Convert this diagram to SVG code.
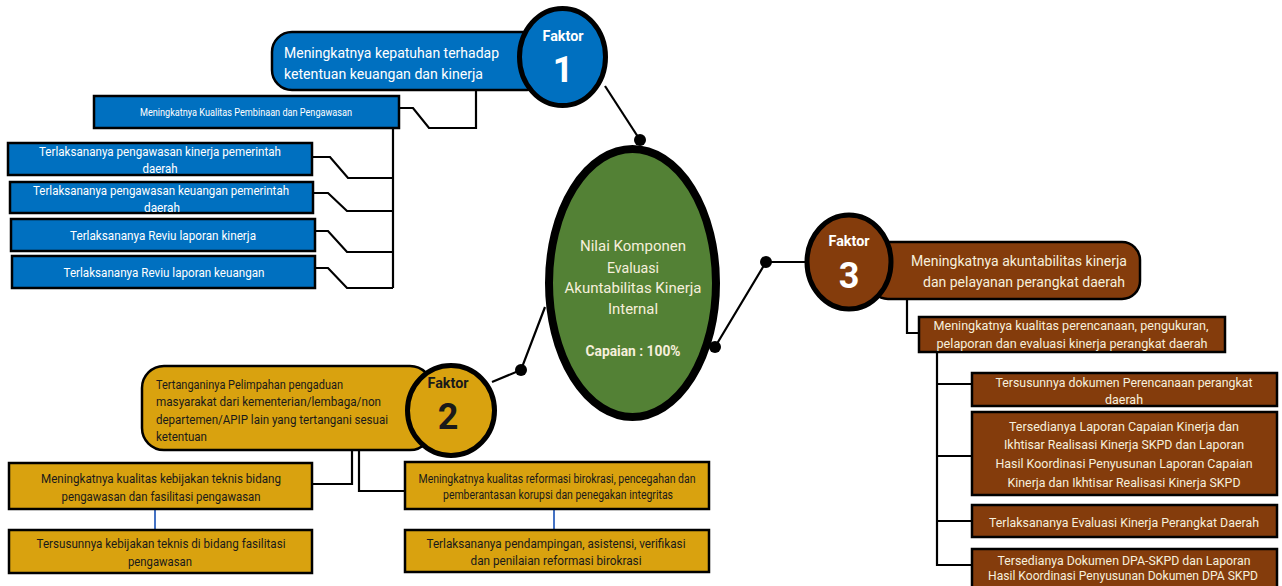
<svg xmlns="http://www.w3.org/2000/svg" width="1282" height="586" viewBox="0 0 1282 586">
<style>
text{font-family:Roboto,"Liberation Sans",sans-serif}
.blue{fill:#0070c0;stroke:#000;stroke-width:2.5}
.brown{fill:#843c0c;stroke:#000;stroke-width:2.5}
.gold{fill:#d9a20f;stroke:#000;stroke-width:2.5}
.wt{fill:#ffffff}
.ct{fill:#f6efdc}
.dk{fill:#1a1a1a}
.mid{text-anchor:middle}
.f15{font-size:15.5px}
.f13{font-size:13.5px}
.f12{font-size:12px}
.f10{font-size:10.5px}
.fk{font-size:15.5px;font-weight:bold;text-anchor:middle}
.num{font-size:36px;font-weight:bold;text-anchor:middle}
.ln{fill:none;stroke:#000;stroke-width:2.2}
.bl{fill:none;stroke:#4472c4;stroke-width:2}
.dot{fill:#000}
</style>
<rect width="1282" height="586" fill="#fff"/>
<g id="connectors">
  <polyline class="ln" points="476,90 476,128 429,128 413,108 398,108"/>
  <polyline class="ln" points="393,128 393,288"/>
  <polyline class="ln" points="393,178 348,178 330,157 313,157"/>
  <polyline class="ln" points="393,211 347,211 328,193 313,193"/>
  <polyline class="ln" points="393,252 347,252 328,231 315,231"/>
  <polyline class="ln" points="393,288 347,288 328,268 315,268"/>
  <line class="ln" x1="605" y1="86" x2="640" y2="140"/>
  <circle class="dot" cx="640" cy="140" r="6"/>
  <polyline class="ln" points="545,307 521,370 492,382"/>
  <circle class="dot" cx="521" cy="370" r="6"/>
  <polyline class="ln" points="715,347 766,262 808,262"/>
  <circle class="dot" cx="715" cy="347" r="6"/>
  <circle class="dot" cx="766" cy="262" r="6"/>
  <polyline class="ln" points="907,298 907,333 920,333"/>
  <polyline class="ln" points="937,352 937,565 972,565"/>
  <line class="ln" x1="937" y1="384" x2="972" y2="384"/>
  <line class="ln" x1="937" y1="456" x2="972" y2="456"/>
  <line class="ln" x1="937" y1="521" x2="972" y2="521"/>
  <polyline class="ln" points="352,447 352,484 312,484"/>
  <polyline class="ln" points="359,450 359,491 405,491"/>
  <line class="bl" x1="155" y1="509" x2="155" y2="530"/>
  <line class="bl" x1="554" y1="509" x2="554" y2="530"/>
</g>
<g id="center">
  <ellipse cx="632.5" cy="283" rx="83.5" ry="134" fill="#538135" stroke="#000" stroke-width="8"/>
  <text class="ct mid f15" x="633" y="250.5" textLength="106" lengthAdjust="spacingAndGlyphs">Nilai Komponen</text>
  <text class="ct mid f15" x="633" y="272.5" textLength="52" lengthAdjust="spacingAndGlyphs">Evaluasi</text>
  <text class="ct mid f15" x="633" y="292.5" textLength="137" lengthAdjust="spacingAndGlyphs">Akuntabilitas Kinerja</text>
  <text class="ct mid f15" x="633" y="313.5" textLength="50" lengthAdjust="spacingAndGlyphs">Internal</text>
  <text class="ct mid f15" x="633" y="355.5" font-weight="bold" textLength="95" lengthAdjust="spacingAndGlyphs">Capaian : 100%</text>
</g>
<g id="faktor1-tujuan">
  <rect class="blue" x="272" y="32" width="275" height="58" rx="20"/>
  <text class="wt f15" x="284" y="57.5" textLength="215" lengthAdjust="spacingAndGlyphs">Meningkatnya kepatuhan terhadap</text>
  <text class="wt f15" x="284" y="78.5" textLength="199" lengthAdjust="spacingAndGlyphs">ketentuan keuangan dan kinerja</text>
</g>
<g id="faktor1">
  <ellipse cx="562.5" cy="57" rx="43" ry="48.5" fill="#0070c0" stroke="#000" stroke-width="5"/>
  <text class="wt fk" x="563" y="40.5" textLength="41" lengthAdjust="spacingAndGlyphs">Faktor</text>
  <text class="wt num" x="563" y="82">1</text>
</g>
<g id="f1-pembinaan">
  <rect class="blue" x="94" y="96" width="305" height="32"/>
  <text class="wt mid f10" x="246" y="115.5" textLength="212" lengthAdjust="spacingAndGlyphs">Meningkatnya Kualitas Pembinaan dan Pengawasan</text>
</g>
<g id="f1-kinerja">
  <rect class="blue" x="8" y="143" width="304" height="32"/>
  <text class="wt mid f13" x="160" y="155.5" textLength="242" lengthAdjust="spacingAndGlyphs">Terlaksananya pengawasan kinerja pemerintah</text>
  <text class="wt mid f13" x="160" y="173" textLength="35" lengthAdjust="spacingAndGlyphs">daerah</text>
</g>
<g id="f1-keuangan">
  <rect class="blue" x="10" y="182" width="303" height="31"/>
  <text class="wt mid f13" x="161" y="194.5" textLength="256" lengthAdjust="spacingAndGlyphs">Terlaksananya pengawasan keuangan pemerintah</text>
  <text class="wt mid f13" x="162" y="211.5" textLength="36" lengthAdjust="spacingAndGlyphs">daerah</text>
</g>
<g id="f1-reviu-kinerja">
  <rect class="blue" x="11" y="219" width="304" height="32"/>
  <text class="wt mid f13" x="163" y="240" textLength="186" lengthAdjust="spacingAndGlyphs">Terlaksananya Reviu laporan kinerja</text>
</g>
<g id="f1-reviu-keuangan">
  <rect class="blue" x="12" y="256" width="303" height="32"/>
  <text class="wt mid f13" x="164" y="277" textLength="201" lengthAdjust="spacingAndGlyphs">Terlaksananya Reviu laporan keuangan</text>
</g>
<g id="faktor2-tujuan">
  <rect class="gold" x="142" y="366" width="290" height="84" rx="22"/>
  <text class="dk f13" x="156" y="388.5" textLength="187" lengthAdjust="spacingAndGlyphs">Tertanganinya Pelimpahan pengaduan</text>
  <text class="dk f13" x="156" y="406" textLength="225" lengthAdjust="spacingAndGlyphs">masyarakat dari kementerian/lembaga/non</text>
  <text class="dk f13" x="156" y="424" textLength="232" lengthAdjust="spacingAndGlyphs">departemen/APIP lain yang tertangani sesuai</text>
  <text class="dk f13" x="156" y="441" textLength="51" lengthAdjust="spacingAndGlyphs">ketentuan</text>
</g>
<g id="faktor2">
  <ellipse cx="451" cy="410.5" rx="43.5" ry="45" fill="#d9a20f" stroke="#000" stroke-width="5"/>
  <text class="dk fk" x="448" y="388" textLength="41" lengthAdjust="spacingAndGlyphs">Faktor</text>
  <text class="dk num" x="448" y="429">2</text>
</g>
<g id="f2-kebijakan">
  <rect class="gold" x="9" y="463" width="303" height="46"/>
  <text class="dk mid f13" x="161" y="483" textLength="240" lengthAdjust="spacingAndGlyphs">Meningkatnya kualitas kebijakan teknis bidang</text>
  <text class="dk mid f13" x="161" y="501" textLength="199" lengthAdjust="spacingAndGlyphs">pengawasan dan fasilitasi pengawasan</text>
</g>
<g id="f2-tersusunnya">
  <rect class="gold" x="9" y="530" width="303" height="43"/>
  <text class="dk mid f13" x="161" y="548" textLength="249" lengthAdjust="spacingAndGlyphs">Tersusunnya kebijakan teknis di bidang fasilitasi</text>
  <text class="dk mid f13" x="160" y="566" textLength="64" lengthAdjust="spacingAndGlyphs">pengawasan</text>
</g>
<g id="f2-reformasi">
  <rect class="gold" x="405" y="462" width="304" height="47"/>
  <text class="dk mid f12" x="557" y="482.5" textLength="277" lengthAdjust="spacingAndGlyphs">Meningkatnya kualitas reformasi birokrasi, pencegahan dan</text>
  <text class="dk mid f12" x="558" y="498.5" textLength="230" lengthAdjust="spacingAndGlyphs">pemberantasan korupsi dan penegakan integritas</text>
</g>
<g id="f2-pendampingan">
  <rect class="gold" x="405" y="530" width="304" height="42"/>
  <text class="dk mid f13" x="556" y="548" textLength="259" lengthAdjust="spacingAndGlyphs">Terlaksananya pendampingan, asistensi, verifikasi</text>
  <text class="dk mid f13" x="556" y="565" textLength="171" lengthAdjust="spacingAndGlyphs">dan penilaian reformasi birokrasi</text>
</g>
<g id="faktor3-tujuan">
  <rect class="brown" x="870" y="242" width="270" height="57" rx="18"/>
  <text class="ct f15" x="911" y="265.5" textLength="216" lengthAdjust="spacingAndGlyphs">Meningkatnya akuntabilitas kinerja</text>
  <text class="ct f15" x="923" y="286.5" textLength="202" lengthAdjust="spacingAndGlyphs">dan pelayanan perangkat daerah</text>
</g>
<g id="faktor3">
  <ellipse cx="849" cy="262" rx="42" ry="47" fill="#843c0c" stroke="#000" stroke-width="5"/>
  <text class="wt fk" x="849" y="246" textLength="41" lengthAdjust="spacingAndGlyphs">Faktor</text>
  <text class="wt num" x="849" y="288" font-size="33">3</text>
</g>
<g id="f3-kualitas">
  <rect class="brown" x="919" y="317" width="306" height="35"/>
  <text class="ct mid f12" x="1071" y="330" textLength="275" lengthAdjust="spacingAndGlyphs">Meningkatnya kualitas perencanaan, pengukuran,</text>
  <text class="ct mid f12" x="1072" y="347.5" textLength="271" lengthAdjust="spacingAndGlyphs">pelaporan dan evaluasi kinerja perangkat daerah</text>
</g>
<g id="f3-perencanaan">
  <rect class="brown" x="972" y="373" width="305" height="33"/>
  <text class="ct mid f13" x="1124" y="386.5" textLength="257" lengthAdjust="spacingAndGlyphs">Tersusunnya dokumen Perencanaan perangkat</text>
  <text class="ct mid f13" x="1124" y="404" textLength="38" lengthAdjust="spacingAndGlyphs">daerah</text>
</g>
<g id="f3-laporan">
  <rect class="brown" x="972" y="412" width="305" height="83"/>
  <text class="ct mid f13" x="1124" y="431" textLength="230" lengthAdjust="spacingAndGlyphs">Tersedianya Laporan Capaian Kinerja dan</text>
  <text class="ct mid f13" x="1124" y="449" textLength="240" lengthAdjust="spacingAndGlyphs">Ikhtisar Realisasi Kinerja SKPD dan Laporan</text>
  <text class="ct mid f13" x="1124" y="468" textLength="257" lengthAdjust="spacingAndGlyphs">Hasil Koordinasi Penyusunan Laporan Capaian</text>
  <text class="ct mid f13" x="1124" y="487" textLength="233" lengthAdjust="spacingAndGlyphs">Kinerja dan Ikhtisar Realisasi Kinerja SKPD</text>
</g>
<g id="f3-evaluasi">
  <rect class="brown" x="972" y="505" width="305" height="32"/>
  <text class="ct mid f13" x="1124" y="526.5" textLength="270" lengthAdjust="spacingAndGlyphs">Terlaksananya Evaluasi Kinerja Perangkat Daerah</text>
</g>
<g id="f3-dpa">
  <rect class="brown" x="972" y="549" width="305" height="45"/>
  <text class="ct mid f13" x="1124" y="564.5" textLength="253" lengthAdjust="spacingAndGlyphs">Tersedianya Dokumen DPA-SKPD dan Laporan</text>
  <text class="ct mid f13" x="1123" y="580" textLength="270" lengthAdjust="spacingAndGlyphs">Hasil Koordinasi Penyusunan Dokumen DPA SKPD</text>
</g>
</svg>
